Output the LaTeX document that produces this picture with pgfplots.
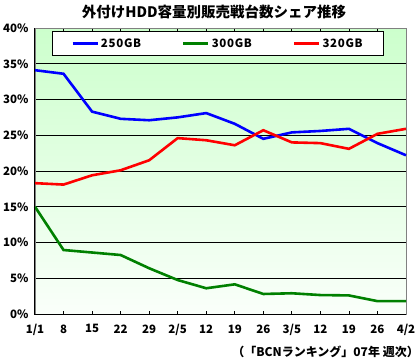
\documentclass[border=0pt]{standalone}
\usepackage{fontspec}
\setmainfont{Noto Sans CJK JP}
\usepackage{pgfplots}
\pgfplotsset{compat=1.18}
\definecolor{bgtop}{RGB}{204,255,204}
\definecolor{bgbot}{RGB}{250,255,250}
\definecolor{frame}{RGB}{128,128,128}
\definecolor{c250}{RGB}{0,0,255}
\definecolor{c300}{RGB}{0,128,0}
\definecolor{c320}{RGB}{255,0,0}
\begin{document}
\begin{tikzpicture}
\path[use as bounding box] (-35bp,-48bp) rectangle (384bp,314bp);
\begin{axis}[
  at={(0,0)}, anchor=south west,
  scale only axis, width=371bp, height=286bp,
  xmin=0, xmax=13, ymin=0, ymax=40,
  xtick={0,...,13},
  xticklabels={1/1,8,15,22,29,2/5,12,19,26,3/5,12,19,26,4/2},
  ytick={0,5,...,40},
  yticklabel={\pgfmathprintnumber[assume math mode=true]{\tick}\%},
  every tick label/.append style={font=\bfseries\fontsize{11.5bp}{12bp}\selectfont},
  xticklabel style={yshift=-7bp},
  yticklabel style={xshift=-3bp},
  ytick style={draw=none},
  xtick style={black, line width=0.8bp},
  tick align=inside,
  major tick length=3bp,
  ymajorgrids,
  grid style={black, line width=0.8bp},
  axis line style={draw=frame, line width=0.8bp},
  axis background/.style={top color=bgtop, bottom color=bgbot},
  legend columns=3,
  legend style={draw=black, fill=white, line width=0.8bp,
    font=\bfseries\fontsize{11.5bp}{12bp}\selectfont\addfontfeatures{LetterSpace=6},
    inner xsep=19bp, inner ysep=5bp,
    /tikz/every even column/.append style={column sep=39bp}},
  legend style={at={(axis description cs:0.0458,0.9895)}, anchor=north west},
  legend image code/.code={\draw[#1] (0bp,0bp) -- (25bp,0bp);},
  clip=false,
]
\addplot[c250, line width=2.6bp] coordinates {
(0,34.1) (1,33.6) (2,28.3) (3,27.3) (4,27.1) (5,27.5) (6,28.1) (7,26.6) (8,24.5) (9,25.4) (10,25.6) (11,25.9) (12,23.9) (13,22.2)};
\addlegendentry{250GB}
\addplot[c300, line width=2.6bp] coordinates {
(0,15.0) (1,8.95) (2,8.6) (3,8.25) (4,6.4) (5,4.75) (6,3.6) (7,4.15) (8,2.8) (9,2.9) (10,2.65) (11,2.6) (12,1.8) (13,1.8)};
\addlegendentry{300GB}
\addplot[c320, line width=2.6bp] coordinates {
(0,18.3) (1,18.1) (2,19.4) (3,20.1) (4,21.5) (5,24.6) (6,24.3) (7,23.6) (8,25.7) (9,24.0) (10,23.9) (11,23.1) (12,25.2) (13,25.9)};
\addlegendentry{320GB}
\draw[black, line width=1bp] (rel axis cs:0,1) -- (rel axis cs:0,0) -- (rel axis cs:1,0);
\end{axis}
\node[anchor=east, inner sep=0pt, font=\bfseries\fontsize{12bp}{14bp}\selectfont] at (384bp,-38bp) {（「BCNランキング」07年 週次）};
\node[font=\bfseries\fontsize{14.5bp}{16bp}\selectfont] at (179bp,302bp) {外付けHDD容量別販売戦台数シェア推移};
\end{tikzpicture}
\end{document}
